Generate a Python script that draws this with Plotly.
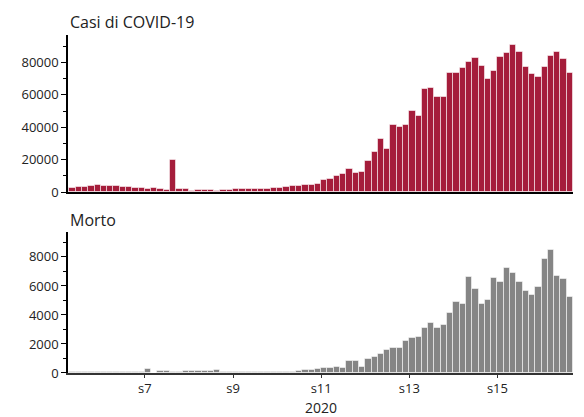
import plotly.graph_objects as go
from plotly.subplots import make_subplots
import pandas as pd

# Daily values, 2020-01-28 .. 2020-04-16
start_date = "2020-01-28"
cases = [2480, 2890, 3100, 3510, 4340, 3930, 3510, 3720, 3100, 3300,
         2690, 2480, 1860, 2270, 1650, 1450, 20040, 2070, 1900, 830,
         1450, 1450, 1450, 830, 1450, 1240, 1650, 1650, 2070, 2070,
         2070, 2070, 2690, 2690, 3300, 3930, 3930, 4550, 4550, 5100,
         7460, 8080, 10150, 11390, 14500, 12000, 12430, 19060, 24650, 32500,
         26700, 41400, 40400, 41200, 49900, 47200, 63400, 64000, 59000, 58400,
         73600, 73700, 76600, 80350, 82800, 78100, 69600, 74600, 83650, 85950,
         90700, 86600, 77250, 72700, 70850, 77450, 83900, 86600, 82400, 73700]
deaths = [40, 45, 45, 50, 65, 70, 70, 70, 75, 80,
          95, 100, 275, 5, 160, 160, 90, 90, 160, 160,
          160, 160, 115, 185, 90, 70, 65, 60, 60, 60,
          65, 65, 70, 75, 80, 95, 115, 230, 230, 285,
          345, 345, 435, 345, 850, 805, 390, 990, 1080, 1330,
          1590, 1725, 1725, 2185, 2390, 2480, 3125, 3430, 3125, 3290,
          4170, 4900, 4780, 6635, 5790, 4780, 5000, 6570, 6275, 7240,
          6860, 6275, 5675, 5345, 5945, 7835, 8455, 6690, 6455, 5260]
dates = pd.date_range(start_date, periods=len(cases), freq="D")

week_ticks = ["2020-02-09", "2020-02-23", "2020-03-08", "2020-03-22", "2020-04-05"]
week_labels = ["s7", "s9", "s11", "s13", "s15"]

title_top = "Casi di COVID-19"
title_bottom = "Morto"
x_title = "2020"

FONT = "Open Sans"
fig = make_subplots(rows=2, cols=1, shared_xaxes=True, vertical_spacing=0.1)

fig.add_trace(go.Bar(x=dates, y=cases, marker_color="#A51D3B",
                     marker_line_color="rgba(255,255,255,0.55)", marker_line_width=1,
                     xperiod=86400000, xperiodalignment="middle", showlegend=False),
              row=1, col=1)
fig.add_trace(go.Bar(x=dates, y=deaths, marker_color="#858585",
                     marker_line_color="rgba(255,255,255,0.55)", marker_line_width=1,
                     xperiod=86400000, xperiodalignment="middle", showlegend=False),
              row=2, col=1)

xr = ["2020-01-27 19:00", "2020-04-17 00:00"]
fig.update_layout(
    width=584, height=417,
    margin=dict(l=68, r=11, t=35, b=44),
    plot_bgcolor="white", paper_bgcolor="white",
    bargap=0.0,
    font=dict(family=FONT, size=12, color="#222"),
    xaxis=dict(domain=[0, 1], range=xr, showline=True, linecolor="black", linewidth=1.5,
               showticklabels=False, ticks="", showgrid=False, zeroline=False,
               tickvals=week_ticks, automargin=False),
    xaxis2=dict(domain=[0, 1], range=xr, showline=True, linecolor="#333", linewidth=1.5,
                ticks="outside", ticklen=3, tickcolor="#333", tickvals=week_ticks,
                ticktext=week_labels, showgrid=False, zeroline=False,
                tickfont=dict(size=13, family=FONT), automargin=False),
    yaxis=dict(domain=[0.5355, 1], range=[0, 97000], showline=True, linecolor="black",
               linewidth=1.5, ticks="outside", ticklen=5, tickcolor="black",
               tickvals=[0, 20000, 40000, 60000, 80000], tickformat="d",
               minor=dict(dtick=10000, ticks="outside", ticklen=3, tickcolor="black"),
               showgrid=False, zeroline=False, tickfont=dict(size=13, family=FONT),
               automargin=False),
    yaxis2=dict(domain=[0, 0.4172], range=[0, 9720], showline=True, linecolor="black",
                linewidth=1.5, ticks="outside", ticklen=5, tickcolor="black",
                tickvals=[0, 2000, 4000, 6000, 8000], tickformat="d",
                minor=dict(dtick=1000, ticks="outside", ticklen=3, tickcolor="black"),
                showgrid=False, zeroline=False, tickfont=dict(size=13, family=FONT),
                automargin=False),
    annotations=[
        dict(text=title_top, xref="paper", yref="paper", x=0, y=1.0385,
             xanchor="left", yanchor="middle", showarrow=False,
             font=dict(size=16, family=FONT, color="#222")),
        dict(text=title_bottom, xref="paper", yref="paper", x=0, y=0.4527,
             xanchor="left", yanchor="middle", showarrow=False,
             font=dict(size=16, family=FONT, color="#222")),
        dict(text=x_title, xref="paper", yref="paper", x=0.5, y=-0.101,
             xanchor="center", yanchor="middle", showarrow=False,
             font=dict(size=14, family=FONT, color="#222")),
    ],
)

fig.write_html("out.html", config={"displayModeBar": False},
               post_script="document.body.style.margin='0';")
